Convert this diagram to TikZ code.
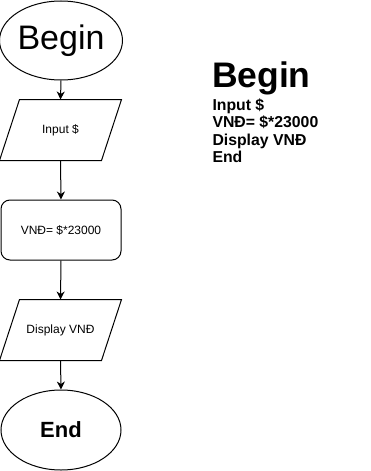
\documentclass[tikz,border=0pt]{standalone}
\usepackage{fontspec}
\setmainfont{Liberation Sans}
\usetikzlibrary{shapes.geometric,arrows.meta,calc}
\begin{document}
\begin{tikzpicture}[x=1pt,y=-1pt,
  line width=1pt,
  terminal/.style={draw,ellipse,inner sep=0pt,minimum width=120pt,minimum height=79pt},
  iobox/.style={inner sep=0pt,minimum width=121pt,minimum height=60pt,font=\fontsize{12}{14}\selectfont},
  procbox/.style={draw,rectangle,rounded corners=9pt,inner sep=0pt,minimum width=120pt,minimum height=60pt,font=\fontsize{12}{14}\selectfont},
  flow/.style={-{Stealth[length=8pt,width=8pt,inset=2.5pt]}},
  summary/.style={anchor=base west,inner sep=0pt,font=\bfseries\fontsize{15.8}{17}\selectfont}]
\useasboundingbox (0,0) rectangle (371,471);

% flowchart column
\node[terminal,font=\fontsize{34}{38}\selectfont] (begin) at (61,40.5) {Begin};
\node[iobox] (in) at (60.5,130) {Input \$};
\node[procbox] (calc) at (61,230) {VNĐ= \$*23000};
\node[iobox] (disp) at (60.5,330) {Display VNĐ};
\node[terminal,minimum height=80pt,font=\bfseries\fontsize{22}{24}\selectfont] (end) at (61,430) {End};

% slanted input/output boxes
\foreach \n in {in,disp}{
  \draw ($(\n.north west)+(20,0)$) -- (\n.north east) -- ($(\n.south east)-(20,0)$) -- (\n.south west) -- cycle;
}

% connectors
\draw[flow] (begin.south) -- (in.north);
\draw[flow] (in.south) -- (calc.north);
\draw[flow] (calc.south) -- (disp.north);
\draw[flow] (disp.south) -- (end.north);

% textual summary
\node[anchor=base west,inner sep=0pt,font=\bfseries\fontsize{35.5}{38}\selectfont] (title) at (211.5,87) {Begin};
\node[summary] (s1) at (212,110) {Input \$};
\node[summary] (s2) at (212,127.5) {VNĐ= \$*23000};
\node[summary] (s3) at (212,145) {Display VNĐ};
\node[summary] (s4) at (212,162.5) {End};
\end{tikzpicture}
\end{document}
